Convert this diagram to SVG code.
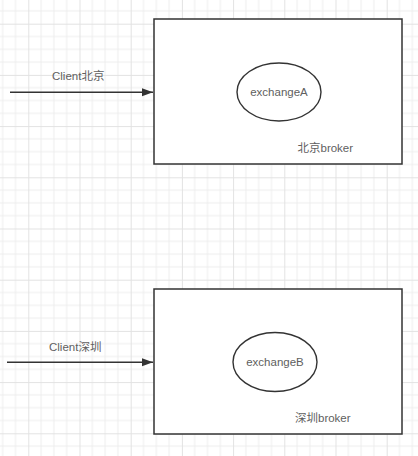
<svg xmlns="http://www.w3.org/2000/svg" width="418" height="456" viewBox="0 0 418 456">
  <style>
    .box { fill: #ffffff; stroke: #333333; stroke-width: 1.5; }
    .ell { fill: #ffffff; stroke: #333333; stroke-width: 1.4; }
    .conn { stroke: #333333; stroke-width: 1.5; fill: none; }
    .lbl { font-family: "Liberation Sans", "Noto Sans CJK SC", sans-serif; font-size: 11.5px; fill: #606060; }
  </style>
  <defs>
    <pattern id="grid" patternUnits="userSpaceOnUse" x="28.3" y="23.7" width="51.2" height="51.2">
      <path d="M12.8 0V51.2M25.6 0V51.2M38.4 0V51.2M0 12.8H51.2M0 25.6H51.2M0 38.4H51.2" stroke="#ededed" stroke-width="1" fill="none"/>
      <path d="M0.5 0V51.2M0 0.5H51.2" stroke="#e2e2e2" stroke-width="1" fill="none"/>
    </pattern>
    <marker id="arr" markerUnits="userSpaceOnUse" markerWidth="12" markerHeight="10" refX="11" refY="4" orient="auto">
      <path d="M0 0L11 4L0 8Z" fill="#333333"/>
    </marker>
  </defs>
  <rect width="418" height="456" fill="#ffffff"/>
  <rect width="418" height="456" fill="url(#grid)"/>

  <g id="broker-beijing">
    <rect class="box" x="154" y="19" width="248" height="145"/>
    <text class="lbl" x="297.5" y="152">北京broker</text>
  </g>
  <g id="exchangeA">
    <ellipse class="ell" cx="279" cy="92" rx="42" ry="29"/>
    <text class="lbl" x="279" y="96" text-anchor="middle">exchangeA</text>
  </g>
  <g id="client-beijing">
    <text class="lbl" x="52" y="80">Client北京</text>
  </g>

  <g id="broker-shenzhen">
    <rect class="box" x="154" y="289" width="248" height="145"/>
    <text class="lbl" x="295" y="422">深圳broker</text>
  </g>
  <g id="exchangeB">
    <ellipse class="ell" cx="275" cy="362" rx="42" ry="29.5"/>
    <text class="lbl" x="275" y="366" text-anchor="middle">exchangeB</text>
  </g>
  <g id="client-shenzhen">
    <text class="lbl" x="49" y="351">Client深圳</text>
  </g>

  <g id="connectors">
    <line class="conn" x1="10" y1="92.3" x2="153" y2="92.3" marker-end="url(#arr)"/>
    <line class="conn" x1="7" y1="362.3" x2="153" y2="362.3" marker-end="url(#arr)"/>
  </g>
</svg>
